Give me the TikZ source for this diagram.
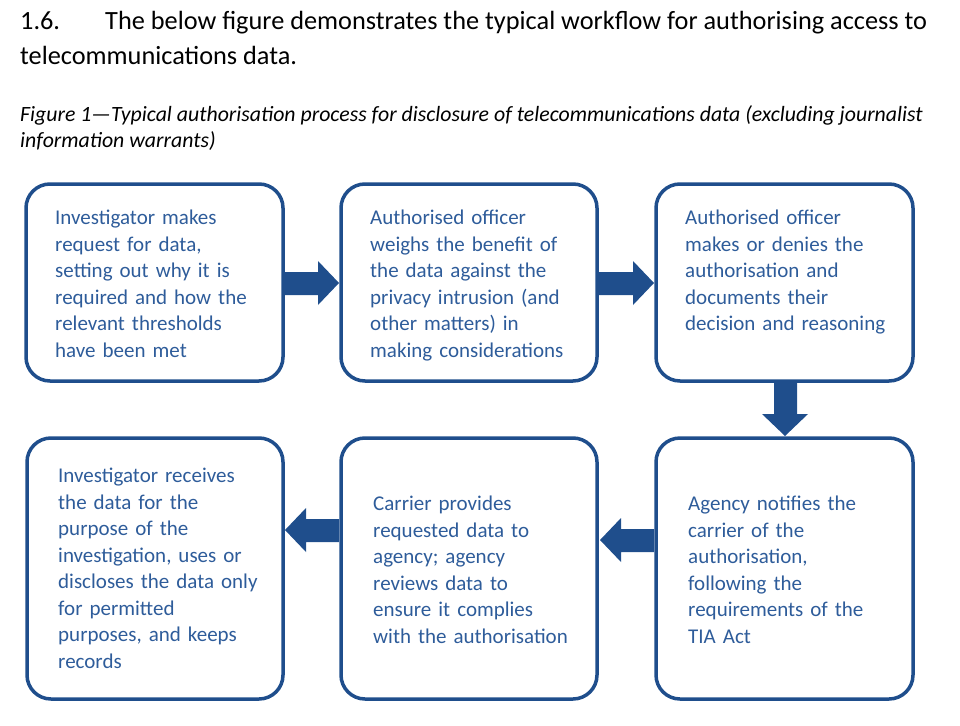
\documentclass[tikz,border=0pt]{standalone}
\usepackage{fontspec}
\setmainfont{Carlito}
\definecolor{bord}{HTML}{1F4E8C}
\definecolor{txt}{HTML}{2E5C9A}
\begin{document}
\begin{tikzpicture}[x=1pt,y=-1pt,
  box/.style={draw=bord,line width=3.5pt,rounded corners=24pt},
  btxt/.style={anchor=north west,text=txt,font=\fontsize{21}{26.5}\selectfont,align=left,inner sep=0pt,text width=225pt},
  arr/.style={fill=bord,draw=none}]
\useasboundingbox (0,0) rectangle (960,725);
\node[anchor=base west,inner sep=0pt,font=\fontsize{26.3}{30}\selectfont] (t1) at (20,30) {1.6.};
\node[anchor=base west,inner sep=0pt,font=\fontsize{26.3}{30}\selectfont] (t2) at (105,30) {The below figure demonstrates the typical workflow for authorising access to};
\node[anchor=base west,inner sep=0pt,font=\fontsize{26.3}{30}\selectfont] (t3) at (20,64) {telecommunications data.};
\node[anchor=base west,inner sep=0pt,font=\itshape\fontsize{21.8}{26}\selectfont] (c1) at (20,121) {Figure 1—Typical authorisation process for disclosure of telecommunications data (excluding journalist};
\node[anchor=base west,inner sep=0pt,font=\itshape\fontsize{21.8}{26}\selectfont] (c2) at (20,147) {information warrants)};
\draw[box] (26,184) rectangle (283,381);
\draw[box] (341,184) rectangle (597,381);
\draw[box] (656,184) rectangle (913,381);
\draw[box] (27,438) rectangle (283,699);
\draw[box] (341,438) rectangle (597,699);
\draw[box] (656,438) rectangle (913,699);
\node[btxt] (b1) at (55,210) {Investigator makes\\request for data,\\setting out why it is\\required and how the\\relevant thresholds\\have been met};
\node[btxt] (b2) at (370,210) {Authorised officer\\weighs the benefit of\\the data against the\\privacy intrusion (and\\other matters) in\\making considerations};
\node[btxt] (b3) at (685,210) {Authorised officer\\makes or denies the\\authorisation and\\documents their\\decision and reasoning};
\node[btxt] (b4) at (58,468) {Investigator receives\\the data for the\\purpose of the\\investigation, uses or\\discloses the data only\\for permitted\\purposes, and keeps\\records};
\node[btxt] (b5) at (373,496) {Carrier provides\\requested data to\\agency; agency\\reviews data to\\ensure it complies\\with the authorisation};
\node[btxt] (b6) at (688,496) {Agency notifies the\\carrier of the\\authorisation,\\following the\\requirements of the\\TIA Act};
% right arrows
\fill[arr] (285,272) -- (318,272) -- (318,261) -- (339,283) -- (318,305) -- (318,295) -- (285,295) -- cycle;
\fill[arr] (599,272) -- (633,272) -- (633,261) -- (654,283) -- (633,305) -- (633,295) -- (599,295) -- cycle;
% down arrow
\fill[arr] (774,383) -- (797,383) -- (797,414) -- (808,414) -- (785,436) -- (762,414) -- (774,414) -- cycle;
% left arrows
\fill[arr] (339,519) -- (306,519) -- (306,508) -- (285,530) -- (306,552) -- (306,542) -- (339,542) -- cycle;
\fill[arr] (654,529) -- (621,529) -- (621,518) -- (600,540) -- (621,562) -- (621,552) -- (654,552) -- cycle;
\end{tikzpicture}
\end{document}
